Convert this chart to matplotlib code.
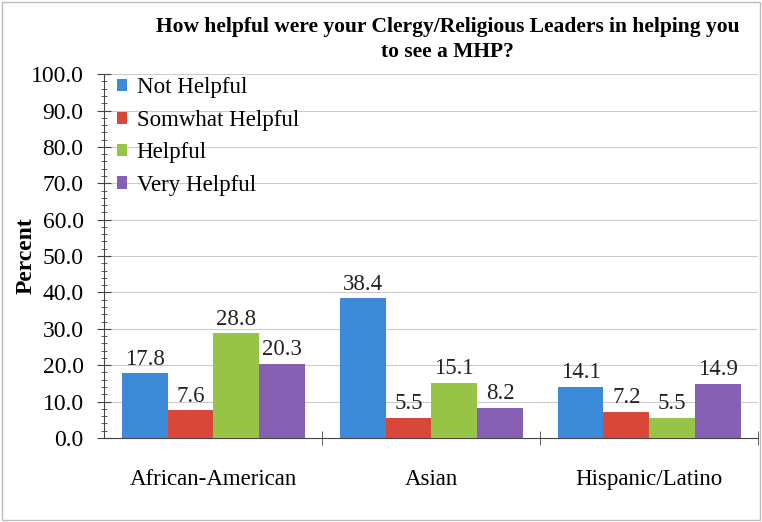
import numpy as np
import matplotlib.pyplot as plt
from matplotlib.ticker import MultipleLocator, FixedLocator, NullFormatter

groups = ["African-American", "Asian", "Hispanic/Latino"]
series = ["Not Helpful", "Somwhat Helpful", "Helpful", "Very Helpful"]
not_helpful = [17.8, 38.4, 14.1]
somewhat_helpful = [7.6, 5.5, 7.2]
helpful = [28.8, 15.1, 5.5]
very_helpful = [20.3, 8.2, 14.9]
values = [not_helpful, somewhat_helpful, helpful, very_helpful]
colors = ["#3d8ad8", "#d9473b", "#97c447", "#8560b3"]

plt.rcParams["font.family"] = ["Liberation Serif", "DejaVu Serif"]

fig = plt.figure(figsize=(7.62, 5.22), dpi=100)
ax = fig.add_axes([0.137, 0.161, 0.858, 0.697])

x = np.arange(len(groups))
w = 0.21
for i, (name, vals, c) in enumerate(zip(series, values, colors)):
    pos = x + (i - 1.5) * w
    bars = ax.bar(pos, vals, w, color=c, label=name, zorder=3)
    for b, v in zip(bars, vals):
        ax.text(b.get_x() + b.get_width() / 2, v + 1.0, f"{v:.1f}",
                ha="center", va="bottom", fontsize=16.5, color="#222222")

ax.set_xlim(-0.5, 2.5)
ax.set_ylim(0, 100)
ax.yaxis.set_major_locator(MultipleLocator(10))
ax.yaxis.set_minor_locator(MultipleLocator(2))
ax.yaxis.set_major_formatter(plt.FuncFormatter(lambda v, _: f"{v:.1f}"))
ax.grid(axis="y", color="#cccccc", linewidth=0.8, zorder=0)

ax.set_xticks(x)
ax.set_xticklabels(groups, fontsize=16.5)
ax.tick_params(axis="x", length=0, pad=22)
ax.xaxis.set_minor_locator(FixedLocator([0.5, 1.5, 2.5]))
ax.xaxis.set_minor_formatter(NullFormatter())
ax.tick_params(axis="x", which="minor", direction="inout", length=10, color="#444444")
ax.tick_params(axis="y", which="major", direction="inout", length=10, labelsize=17, color="#444444", pad=10)
ax.tick_params(axis="y", which="minor", direction="inout", length=5, color="#444444")

for s in ["top", "right"]:
    ax.spines[s].set_visible(False)
ax.spines["left"].set_color("#444444")
ax.spines["bottom"].set_color("#444444")

ax.set_ylabel("Percent", fontsize=17, fontweight="bold", labelpad=-4)

fig.text(0.587, 0.925, "How helpful were your Clergy/Religious Leaders in helping you\nto see a MHP?",
         ha="center", va="center", fontsize=15.5, fontweight="bold", linespacing=1.35)

leg = ax.legend(loc="upper left", bbox_to_anchor=(-0.005, 1.035), frameon=False, fontsize=16.5,
                handlelength=0.45, handleheight=0.45, handletextpad=0.4, labelspacing=0.5,
                borderaxespad=0.3)

border = plt.Rectangle((0.003, 0.003), 0.994, 0.994, transform=fig.transFigure,
                       fill=False, edgecolor="#bbbbbb", linewidth=1)
fig.patches.append(border)

plt.savefig("out.png", dpi=100)
